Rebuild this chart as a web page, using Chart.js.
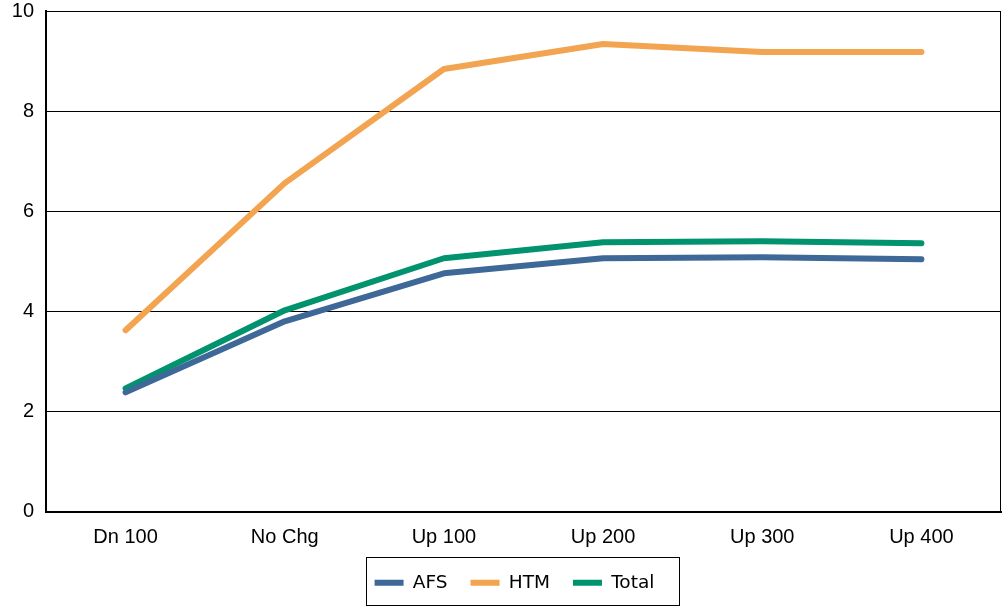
<!DOCTYPE html>
<html>
<head>
<meta charset="utf-8">
<script src="https://cdn.jsdelivr.net/npm/chart.js@4.4.0/dist/chart.umd.min.js"></script>
<style>
  html, body { margin: 0; padding: 0; background: #fff; }
  #wrap { width: 1007px; height: 606px; }
</style>
</head>
<body>
<div id="wrap"><canvas id="c" width="1007" height="606"></canvas></div>
<script>
// data
const categories = ['Dn 100', 'No Chg', 'Up 100', 'Up 200', 'Up 300', 'Up 400'];
const afsValues = [2.38, 3.80, 4.76, 5.06, 5.08, 5.04];
const htmValues = [3.62, 6.56, 8.84, 9.34, 9.18, 9.18];
const totalValues = [2.46, 4.02, 5.06, 5.38, 5.40, 5.36];
const yTicks = [0, 2, 4, 6, 8, 10];

// frame on top/right + box round the legend
const framePlugin = {
    id: 'frame',
    afterLayout(chart) {
        // legend sits a bit right of centre in the original
        chart.legend.left += 14;
        chart.legend.right += 14;
    },
    afterDraw(chart) {
        const ctx = chart.ctx;
        const a = chart.chartArea;
        ctx.save();
        ctx.strokeStyle = '#000';
        ctx.lineWidth = 1;
        ctx.beginPath();
        ctx.moveTo(a.left, a.top + 0.5);
        ctx.lineTo(a.right - 0.5, a.top + 0.5);
        ctx.lineTo(a.right - 0.5, a.bottom);
        ctx.stroke();

        const boxes = chart.legend.legendHitBoxes;
        if (boxes && boxes.length) {
            const left = Math.min(...boxes.map(b => b.left)) - 9;
            const right = Math.max(...boxes.map(b => b.left + b.width)) + 24;
            const mid = boxes[0].top + boxes[0].height / 2;
            ctx.strokeRect(Math.round(left) + 0.5, Math.round(mid - 26) + 0.5, Math.round(right - left), 48);
        }
        ctx.restore();
    }
};

const lineStyle = { borderWidth: 6, pointRadius: 0, borderCapStyle: 'round', borderJoinStyle: 'round', tension: 0, fill: false };

new Chart(document.getElementById('c'), {
    type: 'line',
    data: {
        labels: categories,
        datasets: [
            { label: 'AFS', data: afsValues, borderColor: '#3d6898', backgroundColor: '#3d6898', ...lineStyle },
            { label: 'HTM', data: htmValues, borderColor: '#f2a451', backgroundColor: '#f2a451', ...lineStyle },
            { label: 'Total', data: totalValues, borderColor: '#00936d', backgroundColor: '#00936d', ...lineStyle }
        ]
    },
    options: {
        responsive: false,
        animation: false,
        layout: { padding: { top: 11, right: 6, left: 0, bottom: 4 } },
        plugins: {
            tooltip: { enabled: false },
            legend: {
                position: 'bottom',
                labels: {
                    usePointStyle: true,
                    pointStyle: 'line',
                    pointStyleWidth: 29,
                    padding: 23,
                    color: '#000',
                    font: { family: 'DejaVu Sans', size: 18.5 }
                }
            }
        },
        scales: {
            x: {
                offset: true,
                grid: { display: false },
                border: { color: '#000', width: 2 },
                ticks: { color: '#000', padding: 6, font: { family: 'Liberation Sans', size: 20 } },
                afterFit(s) { s.height = 39; }
            },
            y: {
                min: 0,
                max: 10,
                afterBuildTicks(s) { s.ticks = yTicks.map(v => ({ value: v })); },
                grid: { color: '#000', lineWidth: 1, drawTicks: false },
                border: { color: '#000', width: 2 },
                ticks: { color: '#000', padding: 12, font: { family: 'Liberation Sans', size: 20 } },
                afterFit(s) { s.width = 46; s.paddingTop = 0; }
            }
        }
    },
    plugins: [framePlugin]
});
</script>
</body>
</html>
